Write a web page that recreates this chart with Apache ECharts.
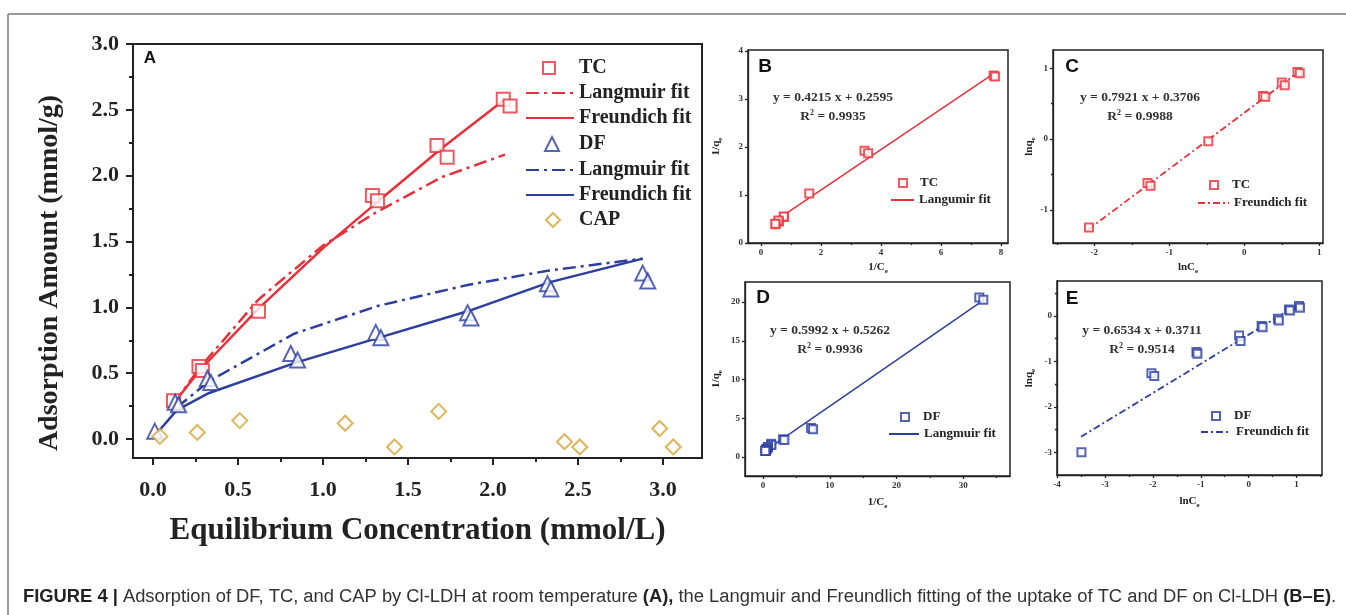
<!DOCTYPE html>
<html><head><meta charset="utf-8">
<script src="https://cdn.jsdelivr.net/npm/echarts@6/dist/echarts.min.js"></script>
<style>html,body{margin:0;padding:0;background:#fff}#c{width:1346px;height:615px}</style>
</head><body><div id="c"></div>
<script>
// ---------- Panel A: adsorption isotherms (x: Ce mmol/L, y: qe mmol/g)
const tcA = [[0.12,0.29],[0.27,0.55],[0.29,0.52],[0.62,0.97],[1.29,1.85],[1.32,1.81],[1.67,2.23],[1.73,2.14],[2.06,2.58],[2.10,2.53]];
const tcLangA = [[0.12,0.27],[0.28,0.55],[0.62,1.06],[1.0,1.47],[1.31,1.72],[1.70,1.99],[2.07,2.16]];
const tcFreuA = [[0.12,0.27],[0.28,0.53],[0.62,0.99],[1.0,1.45],[1.31,1.79],[1.70,2.21],[2.07,2.58]];
const dfA = [[0.01,0.06],[0.13,0.28],[0.15,0.26],[0.32,0.46],[0.34,0.43],[0.81,0.65],[0.85,0.60],[1.31,0.81],[1.34,0.77],[1.85,0.96],[1.87,0.92],[2.32,1.18],[2.34,1.14],[2.88,1.26],[2.91,1.20]];
const dfLangA = [[0.14,0.24],[0.33,0.44],[0.83,0.80],[1.32,1.01],[1.85,1.17],[2.33,1.28],[2.88,1.37]];
const dfFreuA = [[0.02,0.04],[0.14,0.22],[0.33,0.35],[0.84,0.58],[1.33,0.77],[1.85,0.97],[2.33,1.19],[2.88,1.37]];
const capA = [[0.04,0.02],[0.26,0.05],[0.51,0.14],[1.13,0.12],[1.42,-0.06],[1.68,0.21],[2.42,-0.02],[2.51,-0.06],[2.98,0.08],[3.06,-0.06]];
const ticksAx = [0,0.5,1,1.5,2,2.5,3];
const minorAx = [0.25,0.75,1.25,1.75,2.25,2.75];
const ticksAy = [0,0.5,1,1.5,2,2.5,3];
const minorAy = [0.25,0.75,1.25,1.75,2.25,2.75];
// ---------- Panel B: Langmuir TC (1/Ce, 1/qe)
const tcB = [[7.75,3.49],[7.80,3.47],[3.45,1.92],[3.57,1.87],[1.61,1.03],[0.77,0.54],[0.76,0.55],[0.60,0.45],[0.58,0.47],[0.49,0.39],[0.48,0.40]];
const tcLangB = [[0.45,0.45],[7.80,3.55]];
const ticksBx = [0,2,4,6,8], minorBx = [1,3,5,7];
const ticksBy = [0,1,2,3,4], minorBy = [];
// ---------- Panel C: Freundlich TC (lnCe, lnqe)
const tcC = [[-2.07,-1.25],[-1.29,-0.62],[-1.25,-0.66],[-0.48,-0.03],[0.25,0.61],[0.28,0.60],[0.50,0.80],[0.54,0.76],[0.71,0.95],[0.74,0.93]];
const tcFreuC = [[-2.08,-1.28],[0.74,0.96]];
const ticksCx = [-2,-1,0,1], minorCx = [-2.5,-1.5,-0.5,0.5];
const ticksCy = [-1,0,1], minorCy = [-0.5,0.5];
// ---------- Panel D: Langmuir DF
const dfD = [[32.4,20.6],[33.0,20.3],[7.2,3.75],[7.5,3.6],[3.0,2.3],[3.2,2.2],[1.22,1.7],[1.25,1.55],[0.76,1.25],[0.74,1.3],[0.54,1.06],[0.53,1.0],[0.43,0.86],[0.42,0.82],[0.35,0.82],[0.34,0.78]];
const dfLangD = [[0.3,0.8],[32.6,20.0]];
const ticksDx = [0,10,20,30], minorDx = [5,15,25,35];
const ticksDy = [0,5,10,15,20], minorDy = [];
// ---------- Panel E: Freundlich DF
const dfE = [[-3.49,-3.0],[-2.03,-1.26],[-1.97,-1.32],[-1.09,-0.79],[-1.07,-0.83],[-0.2,-0.43],[-0.17,-0.55],[0.27,-0.22],[0.29,-0.25],[0.61,-0.06],[0.63,-0.1],[0.84,0.14],[0.86,0.12],[1.05,0.22],[1.07,0.18]];
const dfFreuE = [[-3.5,-2.66],[0.95,0.2]];
const ticksEx = [-4,-3,-2,-1,0,1], minorEx = [-3.5,-2.5,-1.5,-0.5,0.5,1.5];
const ticksEy = [-3,-2,-1,0], minorEy = [-2.5,-1.5,-0.5,0.5];

const RED = '#e8303a', BLUE = '#2c3f9f', GOLD = '#d6a232';
const SERIF = 'Liberation Serif', SANS = 'Liberation Sans';
const DASHDOT_A = [13,5,3,5], DASHDOT_S = [7,3,2,3];

const chart = echarts.init(document.getElementById('c'), null, {renderer:'canvas'});

const grids = [
  {left:133, top:44, width:569, height:414, borderWidth:2},
  {left:748, top:50, width:260, height:193, borderWidth:1.5},
  {left:1053, top:50, width:270, height:193, borderWidth:1.5},
  {left:745, top:282, width:265, height:194, borderWidth:1.5},
  {left:1057, top:281, width:265, height:194, borderWidth:1.5}
].map(g => Object.assign({show:true, borderColor:'#222', containLabel:false}, g));

const panels = [
  {x:[-0.118,3.229], y:[-0.144,3.0], tx:ticksAx, mx:minorAx, ty:ticksAy, my:minorAy, big:true, fmt:v=>v.toFixed(1),
   xname:'Equilibrium Concentration (mmol/L)', yname:'Adsorption Amount (mmol/g)'},
  {x:[-0.43,8.23], y:[0,4.02], tx:ticksBx, mx:minorBx, ty:ticksBy, my:minorBy, xname:'{m|1/C}{s|e}', yname:'{m|1/q}{s|e}', xg:19, yg:24},
  {x:[-2.55,1.05], y:[-1.47,1.26], tx:ticksCx, mx:minorCx, ty:ticksCy, my:minorCy, xname:'{m|lnC}{s|e}', yname:'{m|lnq}{s|e}', xg:19, yg:14},
  {x:[-2.7,37], y:[-2.45,22.6], tx:ticksDx, mx:minorDx, ty:ticksDy, my:minorDy, xname:'{m|1/C}{s|e}', yname:'{m|1/q}{s|e}', xg:21, yg:21},
  {x:[-4,1.53], y:[-3.5,0.77], tx:ticksEx, mx:minorEx, ty:ticksEy, my:minorEy, xname:'{m|lnC}{s|e}', yname:'{m|lnq}{s|e}', xg:21, yg:20}
];

const smallRich = {
  m:{fontFamily:SERIF, fontWeight:'bold', fontSize:11, color:'#222', verticalAlign:'top', lineHeight:12},
  s:{fontFamily:SERIF, fontWeight:'bold', fontSize:7, color:'#222', verticalAlign:'bottom', padding:[6,0,0,0]}
};

const xAxes = [], yAxes = [];
panels.forEach((p, i) => {
  const big = !!p.big;
  const lw = big ? 2 : 1.3;
  const labelStyle = big
    ? {fontFamily:SERIF, fontWeight:'bold', fontSize:22, color:'#222'}
    : {fontFamily:SERIF, fontWeight:'bold', fontSize:9, color:'#333'};
  xAxes.push({
    type:'value', gridIndex:i, position:'bottom', min:p.x[0], max:p.x[1],
    axisLine:{show:true, onZero:false, lineStyle:{color:'#222', width:lw}},
    axisTick:{show:true, customValues:p.tx, length: big?7:3, lineStyle:{color:'#222', width:lw}},
    axisLabel:Object.assign({customValues:p.tx, margin: big?21:5, formatter: p.fmt || (v=>String(v))}, labelStyle),
    splitLine:{show:false},
    name:p.xname, nameLocation:'middle', nameGap: big?57:p.xg,
    nameTextStyle: big ? {fontFamily:SERIF, fontWeight:'bold', fontSize:31, color:'#222'} : {rich:smallRich}
  });
  xAxes.push({
    type:'value', gridIndex:i, position:'bottom', min:p.x[0], max:p.x[1],
    axisLine:{show:false, onZero:false}, axisLabel:{show:false}, splitLine:{show:false},
    axisTick:{show:p.mx.length>0, customValues:p.mx.length?p.mx:[p.x[0]-1], length: big?4:2, lineStyle:{color:'#222', width:lw}}
  });
  yAxes.push({
    type:'value', gridIndex:i, position:'left', min:p.y[0], max:p.y[1],
    axisLine:{show:true, onZero:false, lineStyle:{color:'#222', width:lw}},
    axisTick:{show:true, customValues:p.ty, length: big?7:3, lineStyle:{color:'#222', width:lw}},
    axisLabel:Object.assign({customValues:p.ty, margin: big?14:5, formatter: p.fmt || (v=>String(v))}, labelStyle),
    splitLine:{show:false},
    name:p.yname, nameLocation:'middle', nameGap: big?69:p.yg,
    nameTextStyle: big ? {fontFamily:SERIF, fontWeight:'bold', fontSize:28, color:'#222', padding:[0,44,0,0]} : {rich:smallRich}
  });
  yAxes.push({
    type:'value', gridIndex:i, position:'left', min:p.y[0], max:p.y[1],
    axisLine:{show:false, onZero:false}, axisLabel:{show:false}, splitLine:{show:false},
    axisTick:{show:p.my.length>0, customValues:p.my.length?p.my:[p.y[0]-1], length: big?4:2, lineStyle:{color:'#222', width:lw}}
  });
});

function scatter(name, data, panel, symbol, color, size, bw){
  return {type:'scatter', name, data, xAxisIndex:2*panel, yAxisIndex:2*panel, symbol, symbolSize:size,
    itemStyle:{color, borderColor:color, borderWidth:bw}, z:3, silent:true};
}
function line(name, data, panel, color, width, dash){
  return {type:'line', name, data, xAxisIndex:2*panel, yAxisIndex:2*panel, symbol:'none', showSymbol:false,
    lineStyle:{color, width, type:dash||'solid'}, itemStyle:{color}, z:2, silent:true};
}

const series = [
  scatter('TC', tcA, 0, 'emptyRect', RED, 13, 2),
  line('Langmuir fit', tcLangA, 0, RED, 2.5, DASHDOT_A),
  line('Freundich fit', tcFreuA, 0, RED, 2.5),
  scatter('DF', dfA, 0, 'emptyTriangle', BLUE, 15, 2),
  line('Langmuir fit ', dfLangA, 0, BLUE, 2.5, DASHDOT_A),
  line('Freundich fit ', dfFreuA, 0, BLUE, 2.5),
  scatter('CAP', capA, 0, 'emptyDiamond', GOLD, 15, 2),
  scatter('TC ', tcB, 1, 'emptyRect', RED, 8, 1.5),
  line('Langumir fit', tcLangB, 1, RED, 1.5),
  scatter('TC  ', tcC, 2, 'emptyRect', RED, 8, 1.5),
  line('Freundich fit  ', tcFreuC, 2, RED, 1.8, DASHDOT_S),
  scatter('DF ', dfD, 3, 'emptyRect', BLUE, 8, 1.5),
  line('Langmuir fit  ', dfLangD, 3, BLUE, 1.5),
  scatter('DF  ', dfE, 4, 'emptyRect', BLUE, 8, 1.5),
  line('Freundich fit   ', dfFreuE, 4, BLUE, 1.8, DASHDOT_S)
];

// one legend component per entry so line keys and marker keys can have their own sizes
function legendEntry(name, iconLeft, cy, w, h, fs, textX, isLine){
  const lh = fs + 2;
  const entry = {left:iconLeft, top:cy - Math.max(h, lh)/2, orient:'vertical', padding:0, itemWidth:w, itemHeight:h, selectedMode:false,
    textStyle:{fontFamily:SERIF, fontWeight:'bold', fontSize:fs, lineHeight:lh, color:'#222',
      padding:[0,0,0, Math.max(0, textX - (iconLeft + w + 5))]},
    data:[name]};
  if (isLine) entry.itemStyle = {opacity:0};
  return entry;
}
const legends = [
  legendEntry('TC', 542, 68, 12, 12, 20, 578, false),
  legendEntry('Langmuir fit', 525, 93, 48, 4, 20, 578, true),
  legendEntry('Freundich fit', 525, 118, 48, 4, 20, 578, true),
  legendEntry('DF', 544, 144, 14, 14, 20, 578, false),
  legendEntry('Langmuir fit ', 525, 170, 48, 4, 20, 578, true),
  legendEntry('Freundich fit ', 525, 195, 48, 4, 20, 578, true),
  legendEntry('CAP', 545, 220, 14, 14, 20, 578, false),
  legendEntry('TC ', 898, 183, 8, 8, 13, 919, false),
  legendEntry('Langumir fit', 890, 200, 23, 4, 13, 918, true),
  legendEntry('TC  ', 1209, 185, 8, 8, 13, 1231, false),
  legendEntry('Freundich fit  ', 1197, 203, 31, 4, 13, 1231, true),
  legendEntry('DF ', 900, 417, 8, 8, 13, 922, false),
  legendEntry('Langmuir fit  ', 888, 434, 30, 4, 13, 922, true),
  legendEntry('DF  ', 1211, 416, 8, 8, 13, 1233, false),
  legendEntry('Freundich fit   ', 1200, 432, 30, 4, 13, 1233, true)
];

const capFS = 18.35;
const capText1 = 'Adsorption of DF, TC, and CAP by Cl-LDH at room temperature';
const capText2 = 'the Langmuir and Freundlich fitting of the uptake of TC and DF on Cl-LDH';

function eq(x, y, main, r2){
  return [
    {type:'text', x, y, style:{text:main, fontFamily:SERIF, fontWeight:'bold', fontSize:13.5, fill:'#333', align:'center', verticalAlign:'middle'}},
    {type:'text', x, y:y+18, style:{text:'{m|R}{p|2}{m| = ' + r2 + '}', align:'center', verticalAlign:'middle',
      rich:{m:{fontFamily:SERIF, fontWeight:'bold', fontSize:13.5, fill:'#333', verticalAlign:'bottom', lineHeight:15},
            p:{fontFamily:SERIF, fontWeight:'bold', fontSize:8, fill:'#333', verticalAlign:'top', lineHeight:8}}}}
  ];
}
function letter(x, y, t, fs){
  return {type:'text', x, y, style:{text:t, fontFamily:SANS, fontWeight:'bold', fontSize:fs, fill:'#111', align:'center', verticalAlign:'middle'}};
}

const graphic = [
  {type:'line', shape:{x1:8, y1:14, x2:1346, y2:14}, style:{stroke:'#7a7a7a', lineWidth:1.5}},
  {type:'line', shape:{x1:8, y1:14, x2:8, y2:615}, style:{stroke:'#7a7a7a', lineWidth:1.5}},
  letter(150, 58, 'A', 17), letter(765, 67, 'B', 19), letter(1072, 67, 'C', 19), letter(763, 298, 'D', 19), letter(1072, 299, 'E', 19),
  ...eq(833, 98, 'y = 0.4215 x + 0.2595', '0.9935'),
  ...eq(1140, 98, 'y = 0.7921 x + 0.3706', '0.9988'),
  ...eq(830, 331, 'y = 0.5992 x + 0.5262', '0.9936'),
  ...eq(1142, 331, 'y = 0.6534 x + 0.3711', '0.9514'),
  {type:'text', x:23, y:597, style:{
    text:'{b|FIGURE 4 |} ' + capText1 + ' {b|(A),} ' + capText2 + ' {b|(B–E)}.',
    fontFamily:SANS, fontSize:capFS, fill:'#333', verticalAlign:'middle',
    rich:{b:{fontFamily:SANS, fontWeight:'bold', fontSize:capFS, fill:'#222'}}}}
];

chart.setOption({
  animation:false,
  backgroundColor:'#fff',
  grid:grids, xAxis:xAxes, yAxis:yAxes, series, legend:legends, graphic
});
</script></body></html>
